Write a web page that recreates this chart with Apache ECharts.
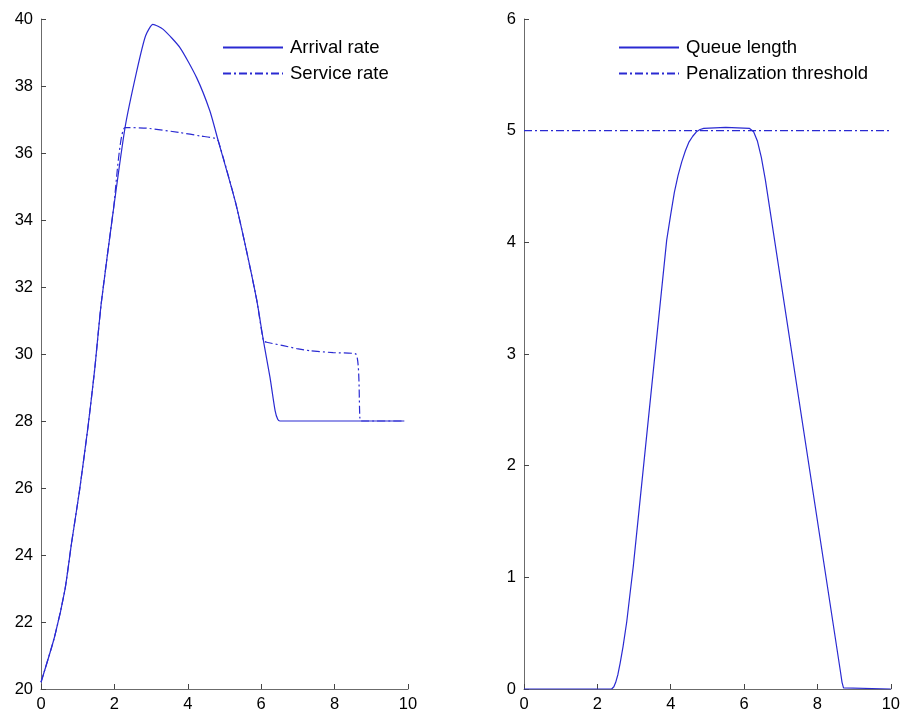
<!DOCTYPE html>
<html>
<head>
<meta charset="utf-8">
<script src="https://cdn.jsdelivr.net/npm/echarts@6/dist/echarts.min.js"></script>
<style>html,body{margin:0;padding:0;background:#fff}#c{width:903px;height:716px}</style>
</head>
<body>
<div id="c"></div>
<script>
const xTicks = [0, 2, 4, 6, 8, 10];
const arrivalX = [0, 0.37, 0.65, 0.83, 1.05, 1.28, 1.46, 1.64, 1.97, 2.29, 2.61, 2.85, 3.05, 3.33, 3.79, 4.24, 4.6, 4.83, 5.29, 5.6, 5.88, 6.06, 6.24, 6.38, 6.45, 6.51, 9.9];
const arrivalY = [20.2, 21.56, 22.95, 24.34, 25.93, 27.82, 29.51, 31.5, 34.28, 36.76, 38.45, 39.5, 39.84, 39.69, 39.14, 38.25, 37.26, 36.36, 34.57, 33.08, 31.6, 30.4, 29.3, 28.3, 28.05, 28.0, 28.0];
const serviceX = [0, 0.37, 0.65, 0.83, 1.05, 1.28, 1.46, 1.64, 1.97, 2.29, 2.88, 3.79, 4.33, 4.74, 4.83, 5.29, 5.6, 5.88, 6.06, 6.15, 6.6, 6.97, 7.33, 7.96, 8.58, 8.69, 8.72, 9.9];
const serviceY = [20.2, 21.56, 22.95, 24.34, 25.93, 27.82, 29.51, 31.5, 34.28, 36.76, 36.74, 36.61, 36.51, 36.44, 36.36, 34.57, 33.08, 31.6, 30.4, 30.35, 30.25, 30.16, 30.1, 30.04, 30.0, 28.07, 28.0, 28.0];
const queueX = [0, 2.39, 2.45, 2.5, 2.56, 2.62, 2.7, 2.8, 2.9, 2.98, 3.89, 4.0, 4.1, 4.2, 4.3, 4.4, 4.5, 4.6, 4.7, 4.8, 4.9, 5.5, 6.15, 6.26, 6.365, 6.47, 6.58, 8.62, 8.67, 8.71, 8.75, 10];
const queueY = [0, 0, 0.02, 0.06, 0.13, 0.23, 0.38, 0.6, 0.88, 1.1, 4.02, 4.25, 4.45, 4.6, 4.72, 4.82, 4.9, 4.95, 4.99, 5.01, 5.02, 5.03, 5.02, 4.99, 4.905, 4.76, 4.56, 0.17, 0.06, 0.01, 0, 0];
const thresholdX = [0, 10];
const thresholdY = [5, 5];

const zip = (xs, ys) => xs.map((x, i) => [x, ys[i]]);
const BLUE = '#2a2ad2';
const FONT = '"Liberation Sans", Arial, sans-serif';
const DASHDOT = [8, 3, 2, 3];

function xAxis(gi) {
  return {
    gridIndex: gi, type: 'value', min: 0, max: 10, interval: 2,
    axisLine: { onZero: false, lineStyle: { color: '#6b6b6b', width: 1 } },
    axisTick: { inside: true, length: 5, lineStyle: { color: '#444' } },
    splitLine: { show: false },
    axisLabel: { color: '#000', fontSize: 16.5, fontFamily: FONT, margin: 7 }
  };
}
function yAxis(gi, min, max, interval) {
  return {
    gridIndex: gi, type: 'value', min: min, max: max, interval: interval,
    axisLine: { show: true, onZero: false, lineStyle: { color: '#6b6b6b', width: 1 } },
    axisTick: { show: true, inside: true, length: 5, lineStyle: { color: '#444' } },
    splitLine: { show: false },
    axisLabel: { color: '#000', fontSize: 16.5, fontFamily: FONT, margin: 8 }
  };
}
function legend(names, left) {
  return {
    data: names, orient: 'vertical', left: left, top: 33,
    itemWidth: 60, itemHeight: 14, itemGap: 7,
    itemStyle: { opacity: 0, borderWidth: 0, color: 'rgba(0,0,0,0)' },
    textStyle: { color: '#000', fontSize: 18.5, fontFamily: FONT, padding: [0, 0, 0, 2] }
  };
}

const chart = echarts.init(document.getElementById('c'), null, { renderer: 'canvas' });
chart.setOption({
  animation: false,
  backgroundColor: '#fff',
  grid: [
    { left: 41, right: 495, top: 19, bottom: 27 },
    { left: 524, right: 12, top: 19, bottom: 27 }
  ],
  xAxis: [xAxis(0), xAxis(1)],
  yAxis: [yAxis(0, 20, 40, 2), yAxis(1, 0, 6, 1)],
  legend: [
    legend(['Arrival rate', 'Service rate'], 217),
    legend(['Queue length', 'Penalization threshold'], 613)
  ],
  series: [
    { name: 'Arrival rate', type: 'line', xAxisIndex: 0, yAxisIndex: 0, symbol: 'none', smooth: 0.2,
      data: zip(arrivalX, arrivalY), lineStyle: { color: BLUE, width: 1.2 }, itemStyle: { color: BLUE }, z: 3 },
    { name: 'Service rate', type: 'line', xAxisIndex: 0, yAxisIndex: 0, symbol: 'none', smooth: 0.2,
      data: zip(serviceX, serviceY), lineStyle: { color: BLUE, width: 1.2, type: DASHDOT }, itemStyle: { color: BLUE }, z: 2 },
    { name: 'Queue length', type: 'line', xAxisIndex: 1, yAxisIndex: 1, symbol: 'none', smooth: false,
      data: zip(queueX, queueY), lineStyle: { color: BLUE, width: 1.2 }, itemStyle: { color: BLUE }, z: 3 },
    { name: 'Penalization threshold', type: 'line', xAxisIndex: 1, yAxisIndex: 1, symbol: 'none',
      data: zip(thresholdX, thresholdY), lineStyle: { color: BLUE, width: 1.2, type: DASHDOT }, itemStyle: { color: BLUE }, z: 2 }
  ]
});
</script>
</body>
</html>
